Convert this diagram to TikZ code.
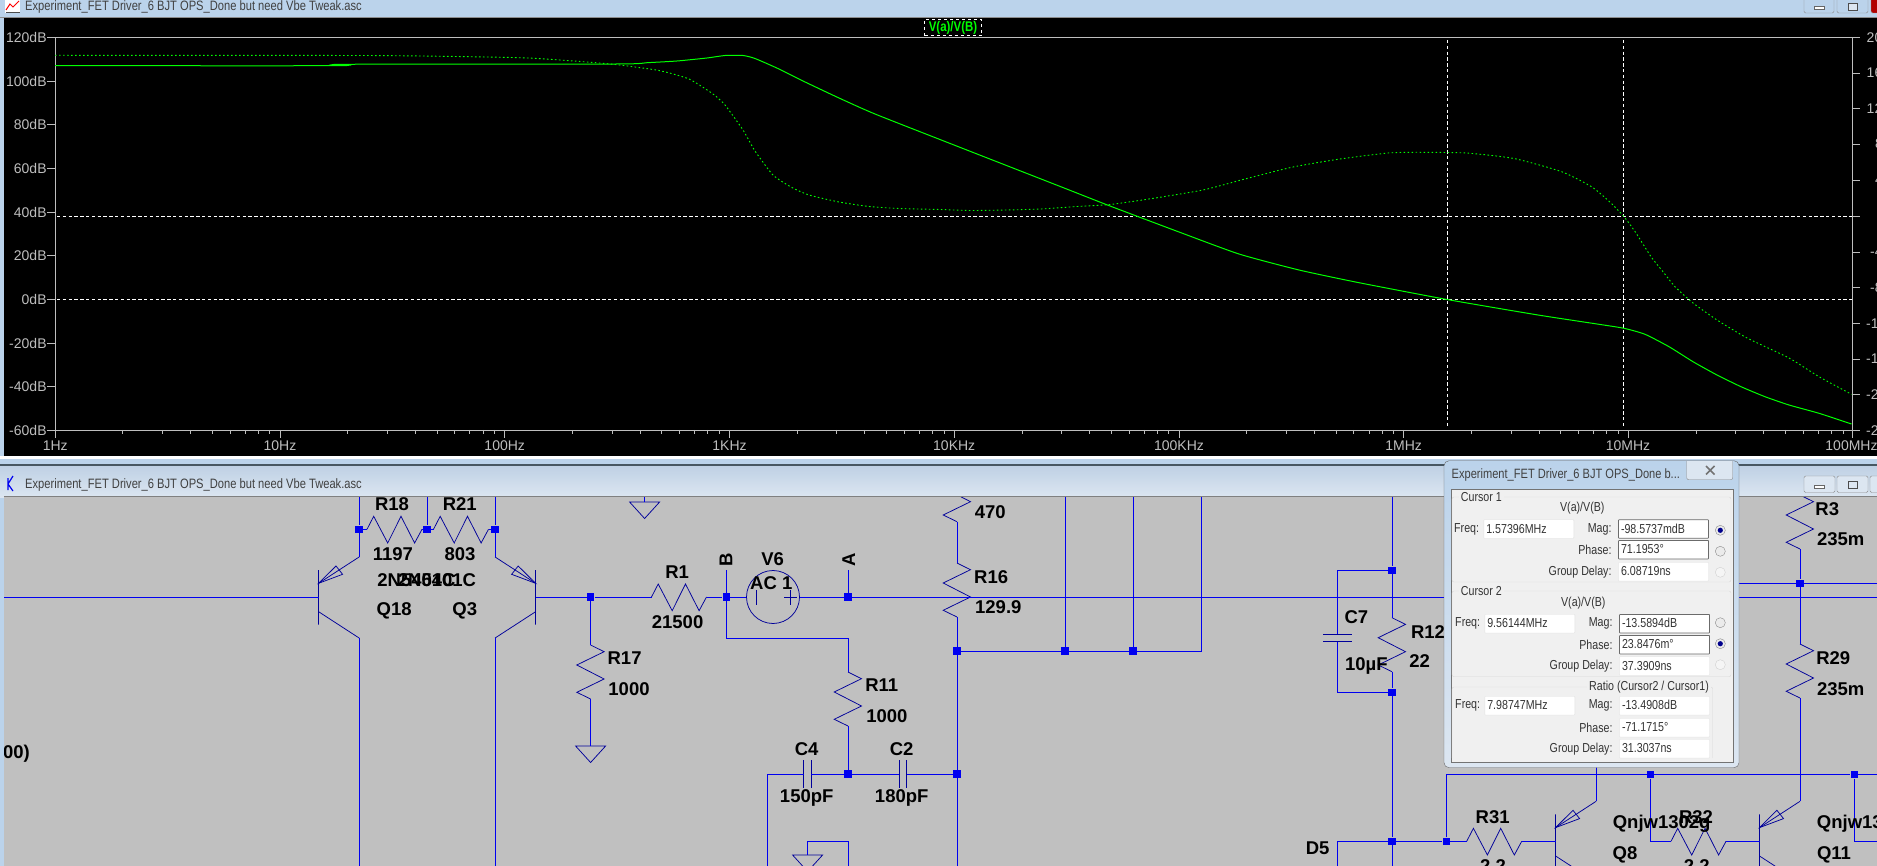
\documentclass[tikz,border=0pt]{standalone}
\usepackage{fontspec}
\setmainfont{Liberation Sans}
\newfontfamily\dlgfont[FakeStretch=0.82]{Liberation Sans}
\usetikzlibrary{positioning}
\definecolor{chrome}{HTML}{BBD3EB}
\definecolor{chromeb}{HTML}{DCE6F1}
\definecolor{chromec}{HTML}{BED0E4}
\definecolor{wireblue}{HTML}{0000F0}
\definecolor{compblue}{HTML}{00009A}
\definecolor{schem}{HTML}{C0C0C0}
\definecolor{axisgray}{HTML}{BEBEBE}
\definecolor{tracegreen}{HTML}{00FF00}
\definecolor{panel}{HTML}{F0F0F0}

\begin{document}
\begin{tikzpicture}[
		x=1pt,y=-1pt,
		wire/.style={draw=wireblue,line width=0.85pt},
		comp/.style={draw=compblue,line width=0.75pt},
		jdot/.style={rectangle,fill=wireblue,minimum size=7.5pt,inner sep=0pt},
		lab/.style={font=\bfseries\fontsize{18.5}{20}\selectfont,text=black,inner sep=0pt},
		ylab/.style={font=\fontsize{14}{16}\selectfont,text=axisgray,inner sep=0pt,anchor=east},
		xlab/.style={font=\fontsize{14}{16}\selectfont,text=axisgray,inner sep=0pt},
		rlab/.style={font=\fontsize{14}{16}\selectfont,text=axisgray,inner sep=0pt,anchor=west},
		ttl/.style={font=\dlgfont\fontsize{13.6}{15}\selectfont,text=black!75,inner sep=0pt,anchor=west},
		dlab/.style={font=\dlgfont\fontsize{13}{15}\selectfont,text=black!80,inner sep=0pt},
		fld/.style={dlab,draw=black!12,fill=white,text width=85pt,inner xsep=2.5pt,inner ysep=0pt,
			minimum height=18.5pt,text height=9.5pt,text depth=1.5pt,align=left,rounded corners=0.6pt},
		sunk/.style={fld,draw=black!58,line width=0.8pt},
		radio/.style={circle,draw=black!45,fill=black!8,minimum size=10pt,inner sep=0pt},
		radiox/.style={circle,draw=black!18,fill=black!4,minimum size=10pt,inner sep=0pt},
		trace/.style={draw=tracegreen,line width=1pt},
		phase/.style={draw=tracegreen,line width=0.9pt,dash pattern=on 1.6pt off 2.4pt},
		cursor/.style={draw=white,line width=1pt,dash pattern=on 3.4pt off 2.4pt},
		hres/.pic={\draw[comp] (0,0) -- (6.7,-13) -- (20.7,13.7) -- (34,-13) -- (47.6,13.7) -- (55,0);
			\coordinate (-a) at (0,0); \coordinate (-b) at (55,0);},
		vres/.pic={\draw[comp] (0,0) -- (13.5,6.7) -- (-13.8,20) -- (13.5,34) -- (-13.8,47.3) -- (0,54);
			\coordinate (-a) at (0,0); \coordinate (-b) at (0,54);},
		gnd/.pic={\draw[comp] (-15,0) -- (15,0) -- (0,16.5) -- cycle; \coordinate (-a) at (0,0);},
		capx/.pic={\draw[comp] (-3.8,-14) -- (-3.8,14) (3.8,-14) -- (3.8,14);
			\coordinate (-a) at (-3.8,0); \coordinate (-b) at (3.8,0);},
		capy/.pic={\draw[comp] (-14.3,-3.8) -- (14.3,-3.8) (-14.3,3.8) -- (14.3,3.8);
			\coordinate (-a) at (0,-3.8); \coordinate (-b) at (0,3.8);},
		pnp/.pic={\draw[comp] (0,-27) -- (0,27.7) (0,-13.7) -- (40.5,-40) (0,14.7) -- (40.5,41);
			\draw[comp] (0,-13.7) -- (24,-22.7) -- (17.4,-31) -- cycle;
			\coordinate (-b) at (0,0); \coordinate (-e) at (40.5,-40); \coordinate (-c) at (40.5,41);}]
	\useasboundingbox (0,0) rectangle (1877,866);
	\clip (0,0) rectangle (1877,866);

	% window frames
	\fill[chrome] (0,0) rectangle (1877,866);
	\shade[top color=chromec,bottom color=chromeb] (0,465) rectangle (1877,497);
	\fill[black] (4,18) rectangle (1877,456);
	\fill[black!45] (0,17) rectangle (1877,18);
	\fill[white] (0,456) rectangle (1877,458.5);
	\fill[black!70!cyan] (0,463.5) rectangle (1877,465.5);
	\fill[schem] (4,497) rectangle (1877,866);
	\fill[black!50] (4,496) rectangle (1877,497.2);

	\node[ttl] (title1) at (25,7) {Experiment\_FET Driver\_6 BJT OPS\_Done but need Vbe Tweak.asc};
	\node[ttl] (title2) at (25,485) {Experiment\_FET Driver\_6 BJT OPS\_Done but need Vbe Tweak.asc};
	\fill[white] (5,0) rectangle (20,13);
	\draw[red,line width=1pt] (6,10) -- (10,4) -- (13,7) -- (19,1);
	\draw[black!70,line width=0.7pt] (6,12.5) -- (20,12.5);
	\draw[wireblue,line width=1.2pt] (13,476) -- (8,484) -- (13,491) (8,478) -- (8,490);

	\draw[black!45,fill=chrome,rounded corners=1.5pt] (1804,-3) rectangle (1834,13);
	\draw[black!45,fill=chrome,rounded corners=1.5pt] (1837,-3) rectangle (1868,13);
	\draw[black!45,fill=red!70!black,rounded corners=1.5pt] (1871,-3) rectangle (1880,13);
	\draw[black!60,fill=white] (1814,6) rectangle (1824,9.5);
	\draw[black!70,fill=chromeb] (1848,3) rectangle (1857,10);
	\draw[black!45,fill=chromeb,rounded corners=1.5pt] (1804,476) rectangle (1835,492.5);
	\draw[black!45,fill=chromeb,rounded corners=1.5pt] (1837,476) rectangle (1868,492.5);
	\draw[black!45,fill=chromeb,rounded corners=1.5pt] (1870,476) rectangle (1880,492.5);
	\draw[black!60,fill=white] (1814,485) rectangle (1824,488.5);
	\draw[black!70,fill=chromeb] (1848,481) rectangle (1857,488);

	% plot axes
	\draw[axisgray,line width=1pt] (47,37.3) -- (1860,37.3) (47,430.3) -- (1860,430.3);
	\draw[axisgray,line width=0.6pt] (55.2,37.3) -- (55.2,430.3);
	\draw[axisgray,line width=1pt] (1852.5,37.3) -- (1852.5,437.5);
	\foreach \y in {81,124.7,168.3,212,255.7,299.3,343,386.7}
		\draw[axisgray,line width=0.8pt] (47,\y) -- (55,\y);
	\foreach \y in {73,108.5,144,180,216,252,287.5,323.3,359,394.5}
		\draw[axisgray,line width=0.8pt] (1852,\y) -- (1860,\y);
	\foreach \d in {0,...,7}{
		\draw[axisgray,line width=0.8pt] (55.2+224.76*\d,430) -- (55.2+224.76*\d,437.5);
		\foreach \m in {.301,.477,.602,.699,.778,.845,.903,.954}
			\draw[axisgray,line width=0.8pt] (55.2+224.76*\d+224.76*\m,430) -- (55.2+224.76*\d+224.76*\m,433.5);
	}

	\node[ylab] (y120) at (46.8,37.3) {120dB};
	\node[ylab] (y100) at (46.8,81) {100dB};
	\node[ylab] (y80) at (46.8,124.7) {80dB};
	\node[ylab] (y60) at (46.8,168.3) {60dB};
	\node[ylab] (y40) at (46.8,212) {40dB};
	\node[ylab] (y20) at (46.8,255.7) {20dB};
	\node[ylab] (y0) at (46.8,299.3) {0dB};
	\node[ylab] (ym20) at (46.8,343) {-20dB};
	\node[ylab] (ym40) at (46.8,386.7) {-40dB};
	\node[ylab] (ym60) at (46.8,430.3) {-60dB};

	\node[rlab] (p20) at (1866.5,37.3) {20};
	\node[rlab] (p16) at (1866.5,73) {16};
	\node[rlab] (p12) at (1866.5,108.5) {12};
	\node[rlab] (p8) at (1875,144) {8};
	\node[rlab] (p4) at (1875,180) {4};
	\node[rlab] (pm4) at (1870,252) {-4};
	\node[rlab] (pm8) at (1870,287.5) {-8};
	\node[rlab] (pm12) at (1866,323.3) {-12};
	\node[rlab] (pm16) at (1866,359) {-16};
	\node[rlab] (pm20) at (1866,394.5) {-20};
	\node[rlab] (pm24) at (1866,430.3) {-24};

	\node[xlab] (x1) at (55.2,446) {1Hz};
	\node[xlab] (x2) at (280,446) {10Hz};
	\node[xlab] (x3) at (504.7,446) {100Hz};
	\node[xlab] (x4) at (729.5,446) {1KHz};
	\node[xlab] (x5) at (954.2,446) {10KHz};
	\node[xlab] (x6) at (1179,446) {100KHz};
	\node[xlab] (x7) at (1403.7,446) {1MHz};
	\node[xlab] (x8) at (1628,446) {10MHz};
	\node[xlab] (x9) at (1851.5,446) {100MHz};

	\node[draw=white,dashed,line width=0.9pt,font=\bfseries\dlgfont\fontsize{14}{15}\selectfont,text=tracegreen,
		minimum width=57pt,minimum height=16.5pt,inner sep=0pt] (trname) at (953,27.7) {V(a)/V(B)};

	% cursors
	\draw[cursor] (57,216.3) -- (1852,216.3) (57,299.3) -- (1852,299.3);
	\draw[cursor] (1447.5,40) -- (1447.5,427) (1623.8,40) -- (1623.8,427);

	% traces
	\draw[trace] plot[smooth,tension=0.35] coordinates {(55,65.7) (339,65.7) (341,64.3) (617,64) (647,62.7) (677,61) (707,58) (725,55.5) (743,55.5) (755,58.5) (779,69) (803,81) (839,98) (875,114) (954,145) (1059,186) (1110,206) (1179,232) (1239,254) (1299,270) (1358,282.5) (1447,299.5) (1538,315) (1597,324) (1624,328.3) (1645,334.3) (1669,346.7) (1693,361.7) (1717,375) (1741,386.7) (1765,396.7) (1789,405) (1819,413.3) (1851.5,424)};
	\draw[phase] plot[smooth,tension=0.35] coordinates {(55,55.3) (360,55.5) (456,56.5) (528,58) (587,62) (617,64.7) (659,70.5) (689,79) (713,94) (725,105) (743,130) (755,151) (773,175) (791,187) (809,195) (839,202) (869,206.5) (899,208.5) (940,209.5) (970,210.5) (1006,210) (1041,209) (1077,206.5) (1110,204.5) (1149,199) (1203,190) (1245,179) (1293,167) (1340,159) (1388,153) (1418,152.3) (1466,153) (1514,158.5) (1561.6,171.7) (1591.5,186.7) (1609.5,201.7) (1624,216.7) (1636,233) (1651,256.7) (1663,271.7) (1675,286.7) (1693,303) (1717,320) (1747,338) (1789,358) (1819,376.7) (1851.5,394.3)};

	\begin{scope}
		\clip (4,497.2) rectangle (1877,866);
		\coordinate (top) at (0,490);
		\coordinate (bot) at (0,885);
		\coordinate (edge) at (1885,0);
		\coordinate (left) at (0,0);

		% junctions
		\node[jdot] (1) at (359.1,529.3) {};
		\node[jdot] (2) at (427,529.3) {};
		\node[jdot] (3) at (495.1,529.3) {};
		\node[jdot] (4) at (590.6,597) {};
		\node[jdot] (b) at (726.4,597) {};
		\node[jdot] (a) at (848,597) {};
		\node[jdot] (5) at (848,774) {};
		\node[jdot] (6) at (957,774) {};
		\node[jdot] (7) at (957,651) {};
		\node[jdot] (8) at (1065,651) {};
		\node[jdot] (9) at (1133,651) {};
		\node[jdot] (10) at (1392,570.3) {};
		\node[jdot] (11) at (1392,692.3) {};
		\node[jdot] (12) at (1392,841.3) {};
		\node[jdot] (13) at (1446.3,841.3) {};
		\node[jdot] (14) at (1650.5,774.7) {};
		\node[jdot] (15) at (1854.4,774.7) {};
		\node[jdot] (16) at (1800,583.3) {};

		\coordinate (cb) at (726.4,570);
		\coordinate (ca) at (848,570);
		\coordinate (c11) at (848,638.3);
		\coordinate (c4l) at (767.5,774);
		\coordinate (c10) at (1201,651);
		\coordinate (d5) at (1337.6,841.3);
		\coordinate (c16) at (1500,583.3);
		\coordinate (c32) at (1650.5,841.3);
		\coordinate (c33) at (1854.4,841.3);
		\coordinate (gr1) at (644.6,502);
		\coordinate (gr2) at (807.6,841.3);
		\coordinate (gr3) at (848,841.3);

		% parts
		\pic (q18) at (318.6,597) {pnp};
		\pic[xscale=-1] (q3) at (535.6,597) {pnp};
		\pic (q8) at (1555.6,841.3) {pnp};
		\pic (q11) at (1759.5,841.3) {pnp};
		\pic (r18) at (367,529.3) {hres};
		\pic (r21) at (433.5,529.3) {hres};
		\pic (r1) at (651.5,597) {hres};
		\pic (r31) at (1466.7,841.3) {hres};
		\pic (r32) at (1671,841.3) {hres};
		\pic (r17) at (590.6,645) {vres};
		\pic (r470) at (957,467.7) {vres};
		\pic (r16) at (957,563) {vres};
		\pic (r11) at (848,672) {vres};
		\pic (r12) at (1392,617.7) {vres};
		\pic (r3) at (1800,495) {vres};
		\pic (r29) at (1800,644) {vres};
		\pic (c4) at (807.6,774) {capx};
		\pic (c2) at (903,774) {capx};
		\pic (c7) at (1337.6,637.8) {capy};
		\pic (g1) at (590.6,746) {gnd};
		\pic (g2) at (644.6,502) {gnd};
		\pic (g3) at (807.6,855) {gnd};
		\node[circle,comp,minimum size=53pt,inner sep=0pt] (v6) at (773,597) {};
		\draw[comp] (756.6,590) -- (756.6,605) (790.6,590) -- (790.6,605) (784,597.5) -- (797,597.5);

		% wires
		\draw[wire] (left |- q18-b) -- (q18-b);
		\draw[wire] (1 |- top) -- (1);
		\draw[wire] (1) -- (q18-e);
		\draw[wire] (q18-c) -- (q18-c |- bot);
		\draw[wire] (1) -- (r18-a);
		\draw[wire] (r18-b) -- (2);
		\draw[wire] (2) -- (r21-a);
		\draw[wire] (r21-b) -- (3);
		\draw[wire] (2 |- top) -- (2);
		\draw[wire] (3 |- top) -- (3);
		\draw[wire] (3) -- (q3-e);
		\draw[wire] (q3-c) -- (q3-c |- bot);
		\draw[wire] (q3-b) -- (4);
		\draw[wire] (4) -- (r1-a);
		\draw[wire] (4) -- (r17-a);
		\draw[wire] (r17-b) -- (g1-a);
		\draw[wire] (r1-b) -- (b);
		\draw[wire] (b) -- (v6);
		\draw[wire] (b) -- (cb);
		\draw[wire] (v6) -- (a);
		\draw[wire] (a) -- (ca);
		\draw[wire] (a) -- (edge |- a);
		\draw[wire] (b) |- (c11) -- (r11-a);
		\draw[wire] (r11-b) -- (5);
		\draw[wire] (c4-b) -- (5);
		\draw[wire] (5) -- (c2-a);
		\draw[wire] (c2-b) -- (6);
		\draw[wire] (c4-a) -- (c4l) -- (c4l |- bot);
		\draw[wire] (r470-b) -- (r16-a);
		\draw[wire] (r16-b) -- (7);
		\draw[wire] (7) -- (6);
		\draw[wire] (6) -- (6 |- bot);
		\draw[wire] (7) -- (8);
		\draw[wire] (8) -- (9);
		\draw[wire] (9) -- (c10) -- (c10 |- top);
		\draw[wire] (8) -- (8 |- top);
		\draw[wire] (9) -- (9 |- top);
		\draw[wire] (10 |- top) -- (10);
		\draw[wire] (10) -- (r12-a);
		\draw[wire] (r12-b) -- (11);
		\draw[wire] (11) -- (12);
		\draw[wire] (12) -- (12 |- bot);
		\draw[wire] (10) -| (c7-a);
		\draw[wire] (c7-b) |- (11);
		\draw[wire] (d5 |- bot) -- (d5) -- (12);
		\draw[wire] (12) -- (13);
		\draw[wire] (13) -- (r31-a);
		\draw[wire] (r31-b) -- (q8-b);
		\draw[wire] (13) |- (14);
		\draw[wire] (14) -- (15);
		\draw[wire] (15) -- (edge |- 15);
		\draw[wire] (14) -- (c32) -- (r32-a);
		\draw[wire] (r32-b) -- (q11-b);
		\draw[wire] (15) -- (c33) -- (edge |- c33);
		\draw[wire] (q8-e) -- (q8-e |- top);
		\draw[wire] (r3-b) -- (16);
		\draw[wire] (16) -- (r29-a);
		\draw[wire] (r29-b) -- (q11-e);
		\draw[wire] (c16) -- (16);
		\draw[wire] (16) -- (edge |- 16);
		\draw[wire] (gr1 |- top) -- (g2-a);
		\draw[wire] (gr2) -- (gr3) -- (gr3 |- bot);
		\draw[wire] (gr2) -- (g3-a);

		% labels
		\node[lab] (tr18) at (392,504.3) {R18};
		\node[lab] (vr18) at (392.9,554.3) {1197};
		\node[lab] (tr21) at (459.8,504.3) {R21};
		\node[lab] (vr21) at (460,554.3) {803};
		\node[lab] (mq18) at (416.5,580) {2N5401C};
		\node[lab] (mq3) at (437,580) {2N5401C};
		\node[lab] (tq18) at (394.2,611) {Q18};
		\node[lab] (tq3) at (464.7,611) {Q3};
		\node[lab] (tr1) at (677.2,572.3) {R1};
		\node[lab] (vr1) at (677.6,622.4) {21500};
		\node[lab] (tr17) at (624.6,658) {R17};
		\node[lab] (vr17) at (629,689) {1000};
		\node[lab,anchor=east] (cut) at (30,754) {00)};
		\node[lab] (tv6) at (772.7,559) {V6};
		\node[lab,rotate=90] (tb) at (726,560) {B};
		\node[lab,rotate=90] (ta) at (848.7,560) {A};
		\node[lab] (vv6) at (771.3,583.3) {AC 1};
		\node[lab] (v470) at (990.2,512.3) {470};
		\node[lab] (tr16) at (991.2,577) {R16};
		\node[lab] (vr16) at (998.3,607) {129.9};
		\node[lab] (tr11) at (881.7,685.3) {R11};
		\node[lab] (vr11) at (886.9,716) {1000};
		\node[lab] (tc4) at (806.7,749) {C4};
		\node[lab] (tc2) at (901.7,749) {C2};
		\node[lab] (vc4) at (806.7,798.3) {150pF};
		\node[lab] (vc2) at (901.7,798.3) {180pF};
		\node[lab] (tc7) at (1356.4,617) {C7};
		\node[lab] (vc7) at (1366.4,665.7) {10µF};
		\node[lab] (tr12) at (1428,632) {R12};
		\node[lab] (vr12) at (1419.7,661.3) {22};
		\node[lab] (td5) at (1317.7,848.3) {D5};
		\node[lab] (tr31) at (1492.7,817.3) {R31};
		\node[lab] (vr31) at (1493,866) {2.2};
		\node[lab] (tr32) at (1696,816.7) {R32};
		\node[lab] (vr32) at (1696.7,866) {2.2};
		\node[lab,anchor=west] (mq8) at (1612.6,824) {Qnjw1302g};
		\node[lab,anchor=west] (mq11) at (1816.7,824) {Qnjw1302g};
		\node[lab] (tq8) at (1625,855) {Q8};
		\node[lab] (tq11) at (1834,855) {Q11};
		\node[lab] (tr3) at (1827.3,509) {R3};
		\node[lab] (vr3) at (1840.7,539) {235m};
		\node[lab] (tr29) at (1833.3,658) {R29};
		\node[lab] (vr29) at (1840.7,689) {235m};
	\end{scope}

	% cursor dialog
	\draw[black!60,top color=chrome,bottom color=chromeb,rounded corners=5pt] (1444,460.7) rectangle (1739,767.7);
	\draw[black!55,fill=panel] (1450.7,489.3) rectangle (1732.7,761.7);
	\draw[black!45,fill=chromeb,rounded corners=2pt] (1686.7,461) -- (1686.7,479.7) -- (1732.7,479.7) -- (1732.7,461);
	\draw[black!55,line width=1.6pt] (1706,466) -- (1714.5,474.5) (1714.5,466) -- (1706,474.5);
	\node[ttl,font=\dlgfont\fontsize{13.5}{15}\selectfont] (dtitle) at (1451.5,475) {Experiment\_FET Driver\_6 BJT OPS\_Done b...};

	\draw[black!15,rounded corners=2pt] (1452,497) rectangle (1731,582);
	\draw[black!15,rounded corners=2pt] (1452,591) rectangle (1731,676.7);
	\draw[black!15,rounded corners=2pt] (1452,758) |- (1712.7,687) -- (1712.7,758);
	\node[dlab,fill=panel,inner xsep=2pt,anchor=west] (cur1) at (1458.7,497) {Cursor 1};
	\node[dlab,fill=panel,inner xsep=2pt,anchor=west] (cur2) at (1458.7,591) {Cursor 2};
	\node[dlab,fill=panel,inner xsep=2pt] (rat) at (1649,687) {Ratio (Cursor2 / Cursor1)};

	\node[dlab] (h1) at (1582.3,508) {V(a)/V(B)};
	\node[dlab,anchor=east] (lf1) at (1479.3,529) {Freq:};
	\node[fld] (f1) at (1528.8,529) {1.57396MHz};
	\node[dlab,anchor=east] (lm1) at (1611.7,529) {Mag:};
	\node[sunk] (m1) at (1663.5,529) {-98.5737mdB};
	\node[dlab,anchor=east] (lp1) at (1611.7,549.7) {Phase:};
	\node[sunk] (p1) at (1663.5,549.7) {71.1953°};
	\node[dlab,anchor=east] (lg1) at (1611.7,571.7) {Group Delay:};
	\node[fld] (g1) at (1663.5,571.7) {6.08719ns};

	\node[dlab] (h2) at (1583.3,603) {V(a)/V(B)};
	\node[dlab,anchor=east] (lf2) at (1480.3,623.7) {Freq:};
	\node[fld] (f2) at (1529.8,623.7) {9.56144MHz};
	\node[dlab,anchor=east] (lm2) at (1612.7,623.7) {Mag:};
	\node[sunk] (m2) at (1664.5,623.7) {-13.5894dB};
	\node[dlab,anchor=east] (lp2) at (1612.7,644.7) {Phase:};
	\node[sunk] (p2) at (1664.5,644.7) {23.8476m°};
	\node[dlab,anchor=east] (lg2) at (1612.7,666) {Group Delay:};
	\node[fld] (g2) at (1664.5,666) {37.3909ns};

	\node[dlab,anchor=east] (lf3) at (1480.3,705.7) {Freq:};
	\node[fld] (f3) at (1529.8,705.7) {7.98747MHz};
	\node[dlab,anchor=east] (lm3) at (1612.7,705.7) {Mag:};
	\node[fld] (m3) at (1664.5,705.7) {-13.4908dB};
	\node[dlab,anchor=east] (lp3) at (1612.7,727.7) {Phase:};
	\node[fld] (p3) at (1664.5,727.7) {-71.1715°};
	\node[dlab,anchor=east] (lg3) at (1612.7,748.7) {Group Delay:};
	\node[fld] (g3) at (1664.5,748.7) {31.3037ns};

	\node[radio] (ra1) at (1720.3,530.3) {};
	\fill[blue!55!black] (ra1) circle (2.6);
	\node[radio] (ra2) at (1720.3,551.3) {};
	\node[radiox] (ra3) at (1720.3,572.3) {};
	\node[radio] (ra4) at (1720.3,622.7) {};
	\node[radio] (ra5) at (1720.3,643.7) {};
	\fill[blue!55!black] (ra5) circle (2.6);
	\node[radiox] (ra6) at (1720.3,664.7) {};
\end{tikzpicture}
\end{document}
